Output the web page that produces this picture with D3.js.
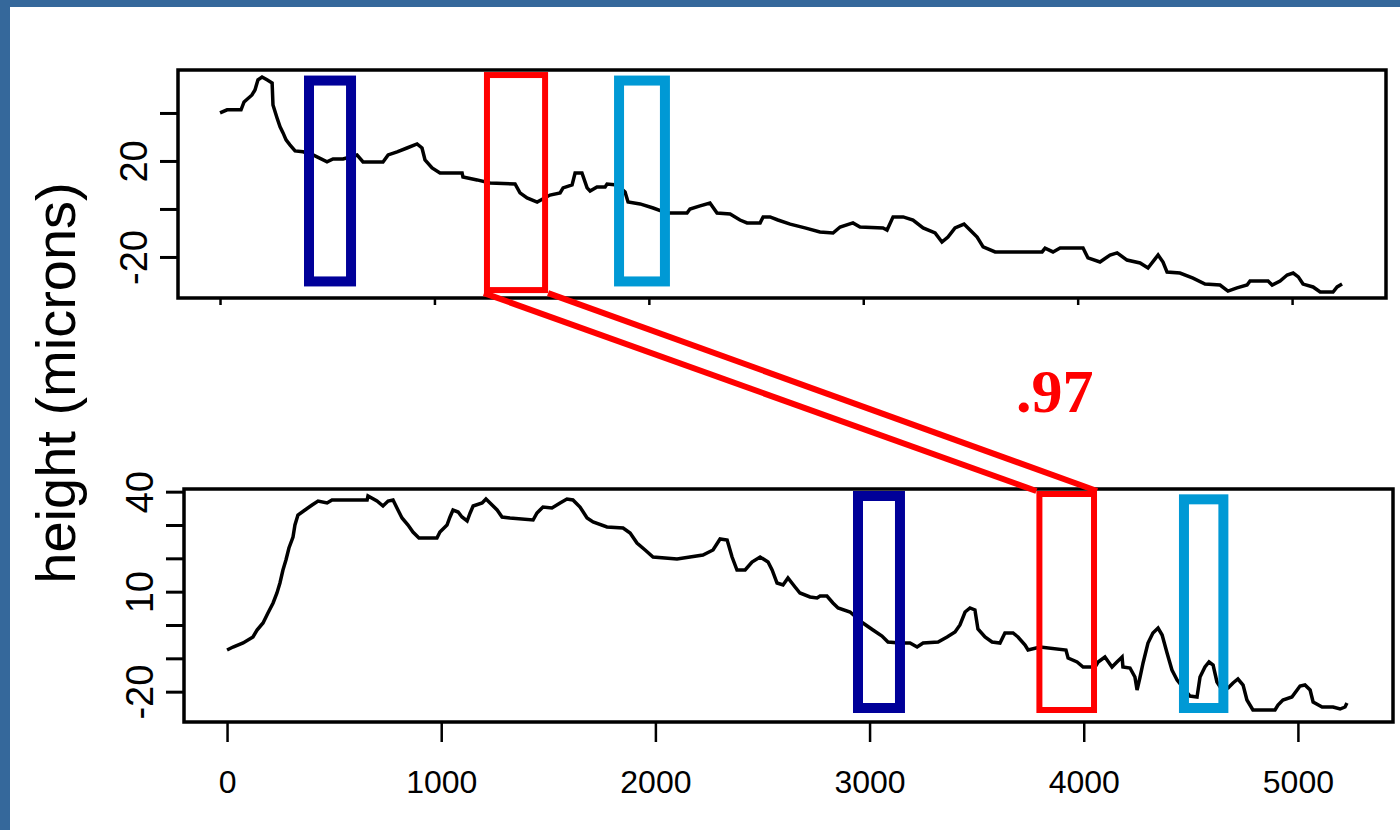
<!DOCTYPE html>
<html>
<head>
<meta charset="utf-8">
<script src="https://cdn.jsdelivr.net/npm/d3@7"></script>
<style>
  html, body { margin: 0; padding: 0; background: #ffffff; }
  svg { display: block; }
</style>
</head>
<body>
<svg id="chart" width="1400" height="830"></svg>
<script>
// Profile A (upper trace): distance along the scan and surface height
const topDistance = [0, 33, 98, 112, 149, 163, 177, 196, 219, 243, 247, 266, 280, 294, 308, 326, 350, 387, 434, 499,
  527, 574, 639, 667, 760, 784, 826, 872, 919, 942, 956, 989, 1026, 1129, 1133, 1199, 1259, 1376, 1399, 1432,
  1479, 1539, 1586, 1600, 1642, 1656, 1688, 1712, 1726, 1758, 1796, 1805, 1852, 1889, 1903, 1959, 2020, 2085, 2178, 2192,
  2239, 2285, 2318, 2379, 2425, 2458, 2519, 2533, 2565, 2602, 2659, 2728, 2798, 2859, 2892, 2952, 2985, 3092, 3111, 3139,
  3186, 3232, 3279, 3335, 3367, 3395, 3428, 3470, 3498, 3531, 3559, 3615, 3834, 3848, 3885, 3918, 4025, 4048, 4104, 4151,
  4184, 4230, 4291, 4328, 4361, 4375, 4398, 4417, 4477, 4538, 4594, 4664, 4701, 4743, 4790, 4804, 4888, 4907, 4944, 4977,
  5005, 5029, 5051, 5098, 5131, 5191, 5210, 5233];
const topHeight = [40, 41.3, 41.3, 44.6, 47.5, 49.6, 53.8, 55, 53.8, 52.5, 43.3, 37.9, 34.2, 31.7, 28.8, 26.7, 24.2, 23.8, 22.5, 19.6,
  20.8, 20.8, 22.5, 19.6, 19.6, 22.5, 23.8, 25.4, 27.1, 25.4, 20.4, 17.1, 15, 15, 13.3, 12.1, 10.8, 10.4, 6.7, 4.6,
  2.9, 5.8, 6.7, 8.8, 10, 15, 15, 8.8, 7.5, 9.2, 9.2, 10.4, 10, 7.1, 2.9, 2.1, 0.4, -1.7, -1.7, 0,
  1.3, 2.5, -1.7, -2.1, -4.6, -5.8, -5.8, -3.3, -3.3, -4.6, -6.3, -7.9, -9.6, -10, -7.5, -5.8, -7.5, -7.9, -8.8, -3.3,
  -3.3, -4.6, -7.9, -10, -13.8, -11.7, -7.9, -6.3, -8.8, -11.7, -15.8, -17.9, -17.9, -16.3, -17.9, -16.3, -16.3, -20.4, -22.1, -19.2,
  -18.3, -21.3, -22.5, -24.6, -20.8, -19.2, -22.1, -26.3, -26.7, -28.8, -31.3, -31.7, -34.2, -32.9, -31.7, -30, -30, -31.7, -30, -27.5,
  -26.7, -28.3, -31.3, -32.5, -34.6, -34.6, -32.5, -31.3];

// Profile B (lower trace)
const bottomDistance = [0, 28, 75, 121, 140, 168, 191, 215, 233, 247, 261, 275, 289, 308, 317, 331, 364, 397, 425, 467,
  490, 654, 658, 700, 728, 752, 775, 798, 817, 845, 868, 896, 980, 994, 1027, 1041, 1055, 1079, 1097, 1121,
  1135, 1149, 1191, 1209, 1228, 1261, 1284, 1321, 1429, 1447, 1475, 1517, 1555, 1587, 1615, 1648, 1681, 1709, 1774, 1849,
  1882, 1914, 1952, 1989, 2101, 2222, 2269, 2302, 2335, 2358, 2381, 2419, 2451, 2489, 2526, 2545, 2568, 2596, 2619, 2652,
  2675, 2722, 2755, 2769, 2801, 2829, 2853, 2909, 2969, 3016, 3058, 3086, 3142, 3189, 3222, 3250, 3320, 3362, 3399, 3422,
  3446, 3469, 3492, 3506, 3539, 3572, 3609, 3632, 3670, 3693, 3726, 3740, 3796, 3917, 3927, 3969, 3997, 4053, 4067, 4099,
  4132, 4155, 4179, 4183, 4216, 4239, 4249, 4263, 4277, 4300, 4323, 4347, 4366, 4389, 4412, 4436, 4473, 4496, 4529, 4543,
  4566, 4585, 4604, 4622, 4646, 4674, 4697, 4720, 4744, 4762, 4790, 4893, 4907, 4930, 4972, 5010, 5033, 5057, 5071, 5113,
  5164, 5197, 5220, 5229];
const bottomHeight = [-7.5, -6.6, -5.4, -3.6, -1.5, 0.6, 3.6, 6.6, 9.6, 12.6, 16.5, 19.5, 23.1, 26.4, 30, 33, 34.5, 36, 37.2, 36.6,
  37.5, 37.5, 38.7, 37.2, 35.7, 37.2, 37.5, 34.5, 32.1, 30, 27.9, 26.1, 26.1, 27.9, 30, 32.4, 34.5, 33.9, 32.4, 31.2,
  33.6, 35.7, 36.6, 37.8, 36.6, 34.5, 32.4, 32.1, 31.5, 33.6, 35.4, 35.1, 36.6, 37.8, 37.5, 35.4, 32.1, 30.9, 29.4, 29.1,
  27.6, 24.6, 22.5, 20.4, 19.8, 21, 22.5, 25.8, 25.5, 20.4, 16.5, 16.5, 18.9, 20.4, 18.9, 16.5, 12.6, 12, 14.1, 11.4,
  9.6, 8.4, 8.1, 8.7, 8.7, 6.6, 5.1, 3.9, 0.6, -1.5, -3.3, -5.1, -5.4, -5.4, -6.6, -5.4, -5.1, -3.6, -2.1, 0,
  3.9, 5.1, 4.5, -1.2, -3.6, -5.1, -5.4, -2.4, -2.4, -3.6, -6, -7.5, -6.6, -7.5, -9.9, -11.1, -12.6, -12.6, -11.1, -9.6,
  -12.6, -11.1, -9.6, -12.6, -12.9, -15.6, -19.5, -15.6, -11.4, -5.4, -2.4, -0.9, -3, -8.4, -13.5, -16.5, -19.5, -21.3, -21.6, -15.6,
  -12.6, -11.1, -12, -17.1, -19.5, -18.9, -17.4, -16.2, -18, -22.5, -25.5, -25.5, -24, -22.5, -21.6, -18.3, -18, -19.5, -23.1, -24.6,
  -24.6, -25.2, -24.6, -23.4];

// Comparison windows: [start, end] along the scan, [low, high] in height
const windowNames = ["navy", "red", "sky"];
const topWindowX = [[415, 611], [1245, 1516], [1861, 2075]];
const topWindowY = [[-30.2, 53.5], [-33.8, 55.8], [-30.2, 53.5]];
const bottomWindowX = [[2946, 3142], [3793, 4048], [4468, 4652]];
const bottomWindowY = [[-24.9, 38.7], [-25.5, 39.3], [-24.9, 37.7]];

// Axis ticks and which of them carry a printed label
const xTicks = [0, 1000, 2000, 3000, 4000, 5000];
const topYTicks = [-20, 0, 20, 40];
const topYLabels = [-20, 20];
const bottomYTicks = [-20, -10, 0, 10, 20, 30, 40];
const bottomYLabels = [-20, 10, 40];

const matchScore = ".97";
const yTitle = "height (microns)";

const windowColor = { navy: "#000099", red: "#ff0000", sky: "#0099d5" };
const windowWidth = { navy: 10, red: 6, sky: 10 };

const svg = d3.select("#chart");

// Slide frame
svg.append("rect").attr("x", 0).attr("y", 0).attr("width", 1400).attr("height", 830).attr("fill", "#ffffff");
svg.append("rect").attr("x", 0).attr("y", 0).attr("width", 1400).attr("height", 7).attr("fill", "#35689b");
svg.append("rect").attr("x", 0).attr("y", 0).attr("width", 10).attr("height", 830).attr("fill", "#35689b");

const topPanel = { left: 178, top: 70, right: 1386, bottom: 298 };
const bottomPanel = { left: 184, top: 489, right: 1393, bottom: 722 };

const xTop = d3.scaleLinear().domain([-196, 5438]).range([topPanel.left, topPanel.right]);
const yTop = d3.scaleLinear().domain([-37.1, 57.9]).range([topPanel.bottom, topPanel.top]);
const xBot = d3.scaleLinear().domain([-201, 5444]).range([bottomPanel.left, bottomPanel.right]);
const yBot = d3.scaleLinear().domain([-29.1, 40.8]).range([bottomPanel.bottom, bottomPanel.top]);

function drawPanel(p, x, y, dist, height, yTicks, yLabels, showXLabels, xTickLen) {
  const g = svg.append("g");

  // y axis with rotated labels
  const ya = g.append("g")
    .attr("transform", `translate(${p.left},0)`)
    .call(d3.axisLeft(y).tickValues(yTicks).tickSize(18)
      .tickFormat(d => yLabels.includes(d) ? String(d) : ""));
  ya.select(".domain").remove();
  ya.selectAll(".tick line").attr("stroke", "#000").attr("stroke-width", 3);
  ya.selectAll(".tick text")
    .attr("dy", null)
    .attr("transform", "rotate(-90)")
    .attr("x", 0).attr("y", -31)
    .attr("text-anchor", "middle")
    .attr("fill", "#000")
    .style("font-family", "'Liberation Sans', Arial, sans-serif")
    .style("font-size", "38px");

  // x axis
  const xa = g.append("g")
    .attr("transform", `translate(0,${p.bottom})`)
    .call(d3.axisBottom(x).tickValues(xTicks).tickSize(xTickLen)
      .tickFormat(d => showXLabels ? String(d) : ""));
  xa.select(".domain").remove();
  xa.selectAll(".tick line").attr("stroke", "#000").attr("stroke-width", 2.5);
  xa.selectAll(".tick text")
    .attr("dy", null).attr("y", 71)
    .attr("fill", "#000")
    .style("font-family", "'Liberation Sans', Arial, sans-serif")
    .style("font-size", "32px");

  // profile trace
  const line = d3.line().x((d, i) => x(dist[i])).y(d => y(d)).curve(d3.curveLinear);
  g.append("path")
    .datum(height)
    .attr("d", line)
    .attr("fill", "none")
    .attr("stroke", "#000")
    .attr("stroke-width", 3.5)
    .attr("stroke-linejoin", "miter");

  // plot box
  g.append("rect")
    .attr("x", p.left).attr("y", p.top)
    .attr("width", p.right - p.left).attr("height", p.bottom - p.top)
    .attr("fill", "none").attr("stroke", "#000").attr("stroke-width", 3.5);
  return g;
}

drawPanel(topPanel, xTop, yTop, topDistance, topHeight, topYTicks, topYLabels, false, 7);
drawPanel(bottomPanel, xBot, yBot, bottomDistance, bottomHeight, bottomYTicks, bottomYLabels, true, 20);

// Link between the matched red windows
const rTopX = topWindowX[1], rTopY = topWindowY[1];
const rBotX = bottomWindowX[1], rBotY = bottomWindowY[1];
const half = windowWidth.red / 2;
const links = [
  [[xTop(rTopX[0]) - half, yTop(rTopY[0]) + half], [xBot(rBotX[0]) - half, yBot(rBotY[1]) - half]],
  [[xTop(rTopX[1]) + half, yTop(rTopY[0]) + half], [xBot(rBotX[1]) + half, yBot(rBotY[1]) - half]]
];
svg.append("g").selectAll("line").data(links).join("line")
  .attr("x1", d => d[0][0]).attr("y1", d => d[0][1])
  .attr("x2", d => d[1][0]).attr("y2", d => d[1][1])
  .attr("stroke", windowColor.red).attr("stroke-width", 6);

// Window boxes
function drawWindows(xs, ys, x, y) {
  svg.append("g").selectAll("rect").data(windowNames).join("rect")
    .attr("x", (d, i) => x(xs[i][0]))
    .attr("y", (d, i) => y(ys[i][1]))
    .attr("width", (d, i) => x(xs[i][1]) - x(xs[i][0]))
    .attr("height", (d, i) => y(ys[i][0]) - y(ys[i][1]))
    .attr("fill", "none")
    .attr("stroke", d => windowColor[d])
    .attr("stroke-width", d => windowWidth[d]);
}
drawWindows(topWindowX, topWindowY, xTop, yTop);
drawWindows(bottomWindowX, bottomWindowY, xBot, yBot);

// Correlation between the red windows
svg.append("text")
  .attr("x", 1016).attr("y", 412)
  .attr("fill", windowColor.red)
  .style("font-family", "'Liberation Serif', 'Times New Roman', serif")
  .style("font-weight", "bold")
  .style("font-size", "62px")
  .text(matchScore);

// Shared y-axis title
svg.append("text")
  .attr("transform", "translate(75,383) rotate(-90)")
  .attr("text-anchor", "middle")
  .attr("fill", "#000")
  .style("font-family", "'Liberation Sans', Arial, sans-serif")
  .style("font-size", "56px")
  .text(yTitle);
</script>
</body>
</html>
